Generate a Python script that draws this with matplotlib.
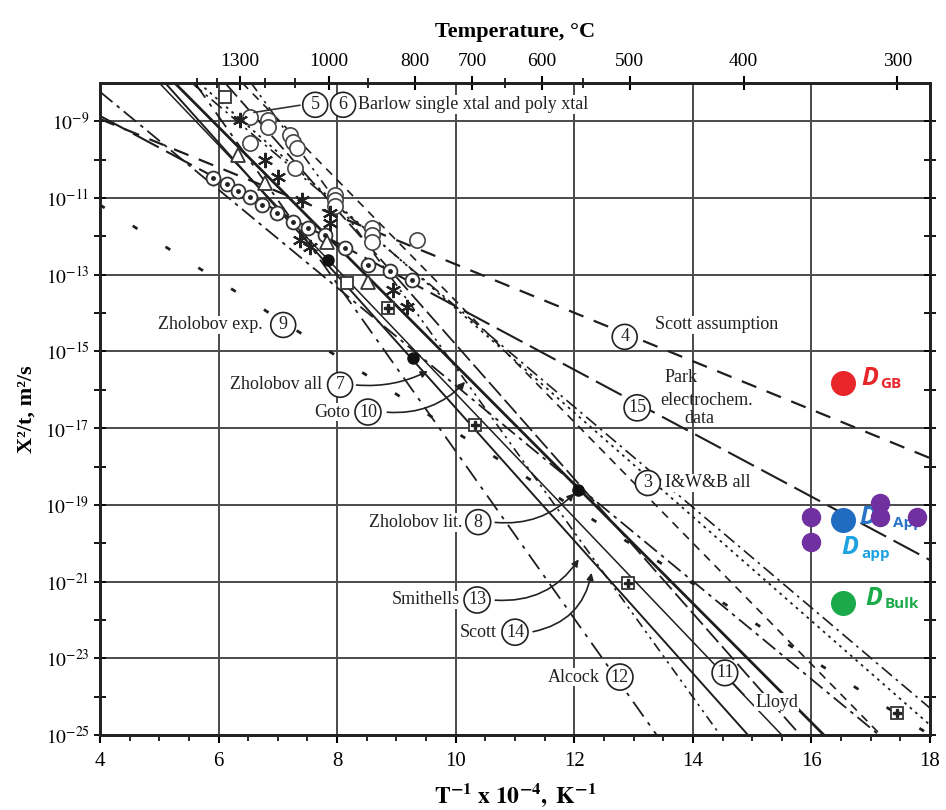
import numpy as np
import matplotlib.pyplot as plt
from matplotlib.ticker import FixedLocator, MultipleLocator, NullFormatter, FuncFormatter

plt.rcParams['font.family'] = ['Liberation Serif', 'DejaVu Serif']
plt.rcParams['mathtext.fontset'] = 'stix'

# fitted lines: x = 1e4/T (K^-1), y = log10(X^2/t) at both ends
line_ids = ['4', '15', '9', '8', '3', '12', '13', '11', '7', '10', '14', 'b1', 'b2']
line_x0 = [4.0, 4.0, 4.0, 4.0, 5.67, 5.60, 5.10, 5.26, 5.00, 6.55, 6.11, 6.40, 5.55]
line_y0 = [-8.94, -8.86, -11.18, -8.23, -8.0, -8.0, -8.0, -8.0, -8.0, -8.0, -8.0, -8.0, -8.0]
line_x1 = [18.0, 18.0, 18.0, 17.14, 18.0, 13.39, 14.93, 16.21, 15.50, 14.46, 15.81, 17.17, 18.0]
line_y1 = [-17.78, -20.44, -25.0, -25.0, -24.74, -25.0, -25.0, -25.0, -25.0, -25.0, -25.0, -25.0, -24.30]

# experimental points
dotcirc_x = [5.91, 6.14, 6.33, 6.53, 6.73, 6.99, 7.26, 7.51, 7.80, 8.13, 8.52, 8.89, 9.26]
dotcirc_y = [-10.48, -10.63, -10.82, -10.97, -11.18, -11.39, -11.62, -11.78, -11.96, -12.30, -12.75, -12.90, -13.14]
opencirc_x = [6.53, 6.83, 6.83, 7.20, 7.26, 7.32, 7.29, 6.53, 7.96, 7.96, 7.96, 8.59, 8.59, 8.59, 9.35]
opencirc_y = [-8.89, -8.96, -9.15, -9.36, -9.54, -9.69, -10.22, -9.56, -10.92, -11.05, -11.21, -11.78, -11.96, -12.15, -12.09]
tri_x = [6.33, 6.78, 7.83, 8.52]
tri_y = [-9.88, -10.61, -12.15, -13.19]
square_x = [6.11, 8.17]
square_y = [-8.37, -13.22]
star_x = [6.36, 6.78, 7.00, 7.41, 7.88, 7.88, 7.37, 7.54, 8.94, 9.18]
star_y = [-8.96, -10.01, -10.45, -11.05, -11.39, -11.65, -12.09, -12.28, -13.40, -13.84]
black_x = [7.85, 9.28, 12.06]
black_y = [-12.62, -15.17, -18.61]
crossq_x = [8.86, 10.32, 12.91, 17.44]
crossq_y = [-13.87, -16.92, -21.04, -24.43]

# this work
gb_x, gb_y = 16.53, -15.82
app_x, app_y = 16.53, -19.40
bulk_x, bulk_y = 16.53, -21.56
purple_x = [15.99, 15.99, 17.16, 17.16, 17.78]
purple_y = [-19.32, -19.97, -18.95, -19.32, -19.32]

temps_major = [1300, 1000, 800, 700, 600, 500, 400, 300]
temps_minor = [1500, 1400, 1200, 1100, 900, 650, 550]

styles = {
    '4': dict(ls=(0, (7, 5)), lw=1.6),
    '15': dict(ls=(0, (14, 4)), lw=1.5),
    '9': dict(ls=(0, (2, 12)), lw=2.0),
    '8': dict(ls=(0, (9, 3, 2, 3)), lw=1.3),
    '3': dict(ls=(0, (1.5, 2.5)), lw=1.3),
    '12': dict(ls=(0, (10, 4, 2, 4)), lw=1.3),
    '13': dict(ls='-', lw=1.4),
    '11': dict(ls='-', lw=2.0),
    '7': dict(ls='-', lw=1.1),
    '10': dict(ls=(0, (6, 3, 1.5, 3, 1.5, 3)), lw=1.2),
    '14': dict(ls=(0, (10, 3)), lw=1.3),
    'b1': dict(ls=(0, (5, 4)), lw=1.2),
    'b2': dict(ls=(0, (8, 3, 1.5, 3)), lw=1.2),
}

fig = plt.figure(figsize=(9.46, 8.10), dpi=100)
ax = fig.add_axes([0.1057, 0.0926, 0.8774, 0.805])
ax.set_yscale('log')
ax.set_xlim(4, 18)
ax.set_ylim(1e-25, 1e-8)

ax.set_xticks(np.arange(4, 19, 2))
ax.xaxis.set_minor_locator(MultipleLocator(0.5))
ax.yaxis.set_major_locator(FixedLocator([10.0 ** k for k in range(-25, -8, 2)]))
ax.yaxis.set_minor_locator(FixedLocator([10.0 ** k for k in range(-24, -8, 2)]))
ax.yaxis.set_minor_formatter(NullFormatter())
ax.yaxis.set_major_formatter(FuncFormatter(lambda v, p: r'$10^{%d}$' % round(np.log10(v))))
ax.grid(True, which='major', color='#4a4a4a', lw=1.4, zorder=0)
ax.tick_params(axis='x', which='major', labelsize=15, direction='out', length=6, width=1.5, pad=6)
ax.tick_params(axis='x', which='minor', direction='out', length=4, width=1.2)
ax.tick_params(axis='y', which='both', labelsize=14, direction='inout', right=True, length=8, width=1.3)
for s in ax.spines.values():
    s.set_linewidth(2)
    s.set_color('#222222')

for i, lid in enumerate(line_ids):
    ax.plot([line_x0[i], line_x1[i]], [10 ** line_y0[i], 10 ** line_y1[i]],
            color='#1e1e1e', zorder=2, **styles[lid])

def pts(ys):
    return [10 ** v for v in ys]

mk = dict(color='#333333', zorder=4, ls='none')
ax.plot(dotcirc_x, pts(dotcirc_y), marker='o', ms=10, mfc='white', mec='#333333', mew=1.3, **mk)
ax.plot(dotcirc_x, pts(dotcirc_y), marker='o', ms=2.5, mfc='#222222', mec='#222222', ls='none', zorder=5)
ax.plot(opencirc_x, pts(opencirc_y), marker='o', ms=11, mfc='white', mec='#444444', mew=1.2, **mk)
ax.plot(tri_x, pts(tri_y), marker='^', ms=10, mfc='white', mec='#333333', mew=1.3, **mk)
ax.plot(square_x, pts(square_y), marker='s', ms=9, mfc='white', mec='#333333', mew=1.3, **mk)
ax.plot(star_x, pts(star_y), marker=(6, 2, 0), ms=11, mec='#222222', mew=1.5, **mk)
ax.plot(black_x, pts(black_y), marker='o', ms=8, mfc='#111111', mec='#111111', **mk)
ax.plot(crossq_x, pts(crossq_y), marker='s', ms=9, mfc='white', mec='#333333', mew=1.3, **mk)
ax.plot(crossq_x, pts(crossq_y), marker='P', ms=6, mfc='#222222', mec='#222222', ls='none', zorder=5)

# circled labels
circ = dict(boxstyle='circle,pad=0.22', fc='white', ec='#222222', lw=1.2)
wbox = dict(boxstyle='square,pad=0.05', fc='white', ec='none')
tk = dict(fontsize=13, color='#222222', zorder=6, va='center')

def circled(x, ly, s):
    ax.text(x, 10 ** ly, s, ha='center', bbox=circ, **tk)

def label(x, ly, s, ha='left'):
    ax.text(x, 10 ** ly, s, ha=ha, bbox=wbox, **tk)

def pointer(x0, ly0, x1, ly1, rad):
    ax.annotate('', xy=(x1, 10 ** ly1), xytext=(x0, 10 ** ly0),
                arrowprops=dict(arrowstyle='-|>', color='#222222', lw=1.2, mutation_scale=10,
                                connectionstyle='arc3,rad=%s' % rad), zorder=5)

ax.annotate('', xy=(6.55, 10 ** -8.78), xytext=(7.42, 10 ** -8.57),
            arrowprops=dict(arrowstyle='-', color='#333333', lw=1.2), zorder=5)
circled(7.63, -8.57, '5')
circled(8.10, -8.57, '6')
label(8.35, -8.57, 'Barlow single xtal and poly xtal')

label(6.75, -14.31, 'Zholobov exp.', ha='right')
circled(7.09, -14.31, '9')
circled(12.85, -14.62, '4')
label(13.36, -14.31, 'Scott assumption')

label(7.75, -15.87, 'Zholobov all', ha='right')
circled(8.05, -15.87, '7')
pointer(8.28, -15.87, 9.57, -15.48, 0.15)
label(8.22, -16.58, 'Goto', ha='right')
circled(8.52, -16.58, '10')
pointer(8.80, -16.58, 10.19, -15.74, 0.25)

ax.text(13.53, 10 ** -15.69, 'Park', fontsize=13, color='#222222', va='center', zorder=6)
ax.text(13.45, 10 ** -16.27, 'electrochem.', fontsize=13, color='#222222', va='center', zorder=6)
ax.text(13.85, 10 ** -16.74, 'data', fontsize=13, color='#222222', va='center', zorder=6)
circled(13.06, -16.47, '15')

circled(13.24, -18.43, '3')
label(13.53, -18.43, 'I&W&B all')

label(10.11, -19.45, 'Zholobov lit.', ha='right')
circled(10.38, -19.45, '8')
pointer(10.62, -19.45, 12.03, -18.65, 0.25)
label(10.07, -21.48, 'Smithells', ha='right')
circled(10.36, -21.48, '13')
pointer(10.62, -21.48, 12.10, -20.36, 0.3)
label(10.70, -22.32, 'Scott', ha='right')
circled(11.0, -22.32, '14')
pointer(11.26, -22.32, 12.30, -20.70, 0.35)
label(12.43, -23.49, 'Alcock', ha='right')
circled(12.77, -23.49, '12')
ax.plot([14.68, 14.86], [10 ** -23.65, 10 ** -23.95], color='#222222', lw=1.1, zorder=5)
circled(14.54, -23.38, '11')
label(15.05, -24.14, 'Lloyd')

# this work: coloured points and labels
ax.plot(gb_x, 10 ** gb_y, 'o', ms=17, color='#e8262a', zorder=7)
ax.plot(app_x, 10 ** app_y, 'o', ms=17, color='#1f6cc0', zorder=7)
ax.plot(bulk_x, 10 ** bulk_y, 'o', ms=17, color='#1aaa4a', zorder=7)

def dlabel(x, ly, sub, color, dx, dy, sdx, z=7):
    ax.annotate('D', xy=(x, 10 ** ly), xytext=(dx, dy), textcoords='offset points',
                fontsize=18, fontweight='bold', fontstyle='italic', family='Open Sans',
                color=color, va='center', ha='left', zorder=z)
    ax.annotate(sub, xy=(x, 10 ** ly), xytext=(dx + sdx, dy - 4), textcoords='offset points',
                fontsize=11, fontweight='bold', family='Open Sans',
                color=color, va='center', ha='left', zorder=z)

dlabel(gb_x, gb_y, 'GB', '#e8262a', 13, 3, 14)
dlabel(app_x, app_y, 'App', '#2a74c8', 12, 2, 24, z=6)
dlabel(app_x, app_y, 'app', '#1ea2e0', -1, -20, 14)
dlabel(bulk_x, bulk_y, 'Bulk', '#1aaa4a', 16, 3, 14)
ax.plot(purple_x, pts(purple_y), 'o', ms=13, color='#7030a0', ls='none', zorder=8)

# top axis in Celsius
ax2 = ax.twiny()
ax2.set_xlim(4, 18)
ax2.set_xticks([1e4 / (t + 273.15) for t in temps_major])
ax2.set_xticklabels([str(t) for t in temps_major], fontsize=14)
ax2.set_xticks([1e4 / (t + 273.15) for t in temps_minor], minor=True)
ax2.tick_params(axis='x', which='major', direction='inout', length=10, width=1.5, pad=4)
ax2.tick_params(axis='x', which='minor', direction='inout', length=7, width=1.2)
for s in ax2.spines.values():
    s.set_linewidth(2)
    s.set_color('#222222')

ax.set_xlabel(r'$\mathbf{T^{-1}\ x\ 10^{-4},\ K^{-1}}$', fontsize=17, labelpad=8)
ax.set_ylabel('X²/t, m²/s', fontsize=16, fontweight='bold', labelpad=6)
ax2.set_xlabel('Temperature, °C', fontsize=16, fontweight='bold', labelpad=12)

fig.savefig('out.png', dpi=100)
